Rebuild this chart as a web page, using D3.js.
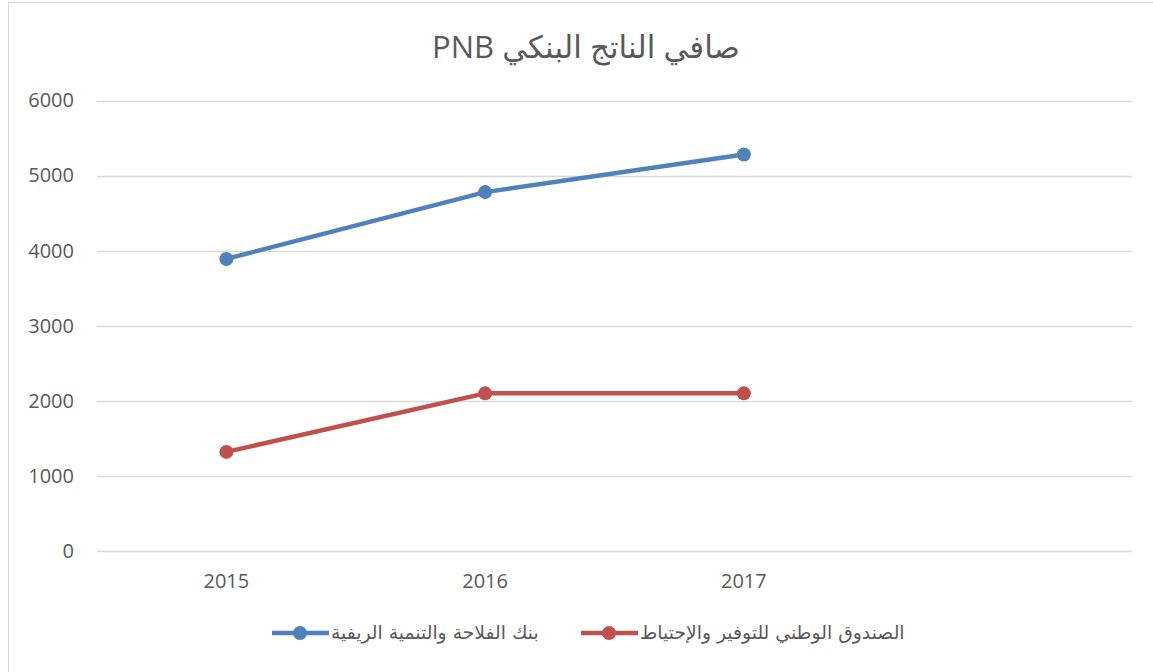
<!DOCTYPE html>
<html>
<head>
<meta charset="utf-8">
<script src="https://cdn.jsdelivr.net/npm/d3@7"></script>
<style>
  body { margin: 0; background: #fff; }
  text { font-family: "Open Sans", "DejaVu Sans", sans-serif; fill: #595959; }
</style>
</head>
<body>
<svg id="chart" width="1153" height="672"></svg>
<script>
// chart data
var categories = ["2015", "2016", "2017", ""];
var seriesNames = ["بنك الفلاحة والتنمية الريفية", "الصندوق الوطني للتوفير والإحتياط"];
var seriesColors = ["#4F81BD", "#C0504D"];
var bankValues = [3890, 4780, 5280];
var fundValues = [1320, 2100, 2100];
var yTicks = [0, 1000, 2000, 3000, 4000, 5000, 6000];
var title = "صافي الناتج البنكي PNB";

var svg = d3.select("#chart");

// outer chart border
svg.append("rect")
  .attr("x", 8.5).attr("y", 2.5)
  .attr("width", 1160).attr("height", 690)
  .attr("fill", "#fff").attr("stroke", "#d9d9d9").attr("stroke-width", 1);

var x = d3.scaleBand().domain(categories).range([97, 1132]);
var y = d3.scaleLinear().domain([0, 6000]).range([551, 100.5]);

// gridlines
svg.append("g").selectAll("line").data(yTicks).enter().append("line")
  .attr("x1", 97).attr("x2", 1132)
  .attr("y1", function(d) { return Math.round(y(d)) + 0.5; })
  .attr("y2", function(d) { return Math.round(y(d)) + 0.5; })
  .attr("stroke", "#d9d9d9").attr("stroke-width", 1.3);

// y axis labels
var yAxis = d3.axisLeft(y).tickValues(yTicks).tickFormat(d3.format("d")).tickSize(0).tickPadding(0);
var yg = svg.append("g").attr("transform", "translate(74,0)").call(yAxis);
yg.select(".domain").remove();
yg.selectAll("text").style("font-size", "20px").attr("fill", "#595959");

// x axis labels
var xAxis = d3.axisBottom(x).tickSize(0).tickPadding(0);
var xg = svg.append("g").attr("transform", "translate(0,574)").call(xAxis);
xg.select(".domain").remove();
xg.selectAll("text").style("font-size", "20px").attr("fill", "#595959");

// title (rtl so PNB sits on the left)
svg.append("text")
  .attr("x", 586).attr("y", 58)
  .attr("text-anchor", "middle")
  .attr("direction", "rtl")
  .style("font-size", "31px")
  .text(title);

var line = d3.line()
  .x(function(d, i) { return x(categories[i]) + x.bandwidth() / 2; })
  .y(function(d) { return y(d); });

[bankValues, fundValues].forEach(function(vals, s) {
  svg.append("path")
    .datum(vals)
    .attr("d", line)
    .attr("fill", "none")
    .attr("stroke", seriesColors[s])
    .attr("stroke-width", 4.5)
    .attr("stroke-linejoin", "round");
  svg.append("g").selectAll("circle").data(vals).enter().append("circle")
    .attr("cx", function(d, i) { return x(categories[i]) + x.bandwidth() / 2; })
    .attr("cy", function(d) { return y(d); })
    .attr("r", 7)
    .attr("fill", seriesColors[s]);
});

// legend: marker line, then text right next to it
var legendStart = [272, 581];
legendStart.forEach(function(x0, s) {
  var g = svg.append("g");
  g.append("line")
    .attr("x1", x0).attr("x2", x0 + 57)
    .attr("y1", 633).attr("y2", 633)
    .attr("stroke", seriesColors[s]).attr("stroke-width", 4.5);
  g.append("circle")
    .attr("cx", x0 + 28).attr("cy", 633).attr("r", 7)
    .attr("fill", seriesColors[s]);
  var t = g.append("text")
    .attr("y", 639)
    .attr("text-anchor", "middle")
    .attr("direction", "rtl")
    .style("font-family", "'DejaVu Sans', sans-serif")
    .style("font-size", "18.8px")
    .text(seriesNames[s]);
  var w = t.node().getComputedTextLength();
  t.attr("x", x0 + 59 + w / 2);
});
</script>
</body>
</html>
